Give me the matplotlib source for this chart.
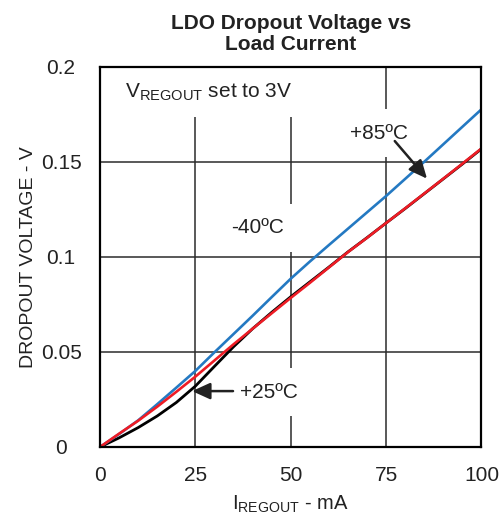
import matplotlib
matplotlib.use("Agg")
import matplotlib.pyplot as plt

plt.rcParams['font.family'] = ['Liberation Sans', 'DejaVu Sans']
plt.rcParams['mathtext.default'] = 'regular'

# load current, mA
load_ma = [0, 5, 10, 15, 20, 25, 30, 35, 40, 45, 50, 55, 60, 65, 70, 75, 80, 85, 90, 95, 100]
# dropout voltage, V
v_85c = [0, 0.0068, 0.0140, 0.0225, 0.0312, 0.0400, 0.0498, 0.0594, 0.0690, 0.0788, 0.0885,
         0.0975, 0.1062, 0.1148, 0.1234, 0.1320, 0.1410, 0.1500, 0.1592, 0.1684, 0.1776]
v_m40c = [0, 0.0070, 0.0138, 0.0212, 0.0290, 0.0370, 0.0455, 0.0540, 0.0622, 0.0703, 0.0784,
          0.0863, 0.0944, 0.1025, 0.1100, 0.1178, 0.1255, 0.1333, 0.1411, 0.1490, 0.1570]
v_25c = [0, 0.0048, 0.0102, 0.0163, 0.0234, 0.0320, 0.0424, 0.0527, 0.0622, 0.0708, 0.0790,
         0.0868, 0.0946, 0.1026, 0.1101, 0.1178, 0.1254, 0.1332, 0.1410, 0.1488, 0.1568]

x_ticks = [0, 25, 50, 75, 100]
y_ticks = [0, 0.05, 0.1, 0.15, 0.2]
y_tick_labels = ['0', '0.05', '0.1', '0.15', '0.2']

fig = plt.figure(figsize=(5.03, 5.17), dpi=100)
ax = fig.add_axes([0.1988, 0.1354, 0.7584, 0.7356])

grid_col = '#2b2b2b'
for xv in x_ticks:
    ax.axvline(xv, color=grid_col, lw=1.1, zorder=1)
for yv in y_ticks:
    ax.axhline(yv, color=grid_col, lw=1.1, zorder=1.8)

ax.plot(load_ma, v_25c, color='black', lw=2.0, zorder=2)
ax.plot(load_ma, v_85c, color='#2479c2', lw=1.9, zorder=2.1)
ax.plot(load_ma, v_m40c, color='#ee1c25', lw=1.9, zorder=2.2)

ax.set_xlim(0, 100)
ax.set_ylim(0, 0.2)
ax.set_xticks(x_ticks)
ax.set_yticks(y_ticks)
ax.set_yticklabels(y_tick_labels)
ax.tick_params(length=0, labelsize=15, colors='#222222')
ax.tick_params(axis='x', pad=14)
ax.tick_params(axis='y', pad=28)
for lab in ax.get_yticklabels():
    lab.set_horizontalalignment('center')
for sp in ax.spines.values():
    sp.set_linewidth(1.6)
    sp.set_zorder(3)

box = dict(boxstyle='square,pad=0.7', fc='white', ec='none')
ax.text(6.55, 0.1867, r'V$_{REGOUT}$ set to 3V', fontsize=15, ha='left', va='center',
        color='#222222', bbox=box, zorder=1.5)
ax.text(41.4, 0.1152, '-40ºC', fontsize=15, ha='center', va='center',
        color='#222222', bbox=box, zorder=1.5)
ax.text(73.1, 0.1650, '+85ºC', fontsize=15, ha='center', va='center',
        color='#222222', bbox=box, zorder=1.5)
ax.text(44.2, 0.0289, '+25ºC', fontsize=15, ha='center', va='center',
        color='#222222', bbox=box, zorder=1.5)

arrow = dict(arrowstyle='-|>,head_length=1.1,head_width=0.5', color='#222222', lw=1.8)
ax.annotate('', xy=(86.2, 0.1400), xytext=(76.8, 0.1620), arrowprops=arrow, zorder=4)
ax.annotate('', xy=(23.4, 0.0294), xytext=(35.6, 0.0294), arrowprops=arrow, zorder=4)

ax.set_title('LDO Dropout Voltage vs\nLoad Current', fontsize=15, fontweight='bold',
             color='#222222', pad=12, linespacing=1.15)
ax.set_xlabel(r'I$_{REGOUT}$ - mA', fontsize=14.5, color='#222222', labelpad=6)
ax.set_ylabel('DROPOUT VOLTAGE - V', fontsize=14, color='#222222', labelpad=3)

fig.savefig('out.png', dpi=100)
